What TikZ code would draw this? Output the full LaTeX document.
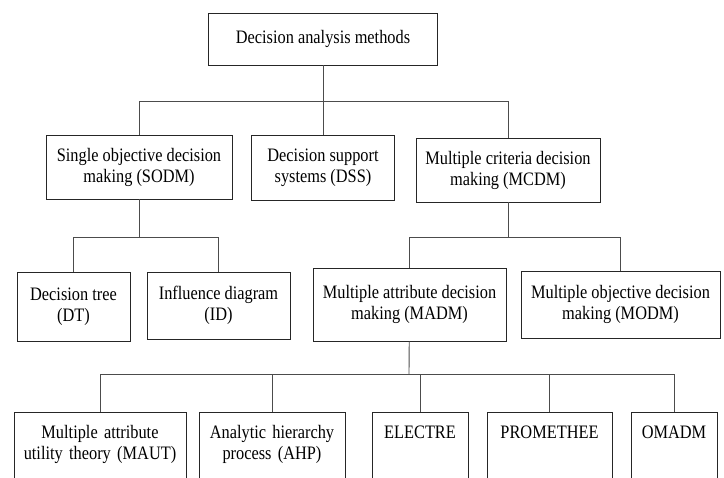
\documentclass[tikz,border=0pt]{standalone}
\usepackage{fontspec}
\setmainfont{Liberation Serif}[FakeStretch=0.86]

\tikzset{
	box/.style={draw=black!85, line width=0.9pt, align=center, inner sep=2pt,
		font=\fontsize{19}{21}\selectfont},
	leaf/.style={box, anchor=north, inner xsep=0pt, inner ysep=12pt,
		text width=#1, text height=14pt, text depth=80pt},
	link/.style={draw=black!70, line width=0.9pt}
}

\begin{document}
\begin{tikzpicture}[x=1pt, y=-1pt]

	\useasboundingbox (0,0) rectangle (724,478);
	\clip (0,0) rectangle (724,478);

	% root
	\node[box, minimum width=229pt, minimum height=52pt] (top) at (323,39) {Decision analysis methods};

	% second level
	\node[box, minimum width=186pt, minimum height=64pt] (sodm) at (139,167) {Single objective decision\\making (SODM)};
	\node[box, minimum width=143pt, minimum height=65pt] (dss) at (323,167.5) {Decision support\\systems (DSS)};
	\node[box, minimum width=184pt, minimum height=64pt] (mcdm) at (508,170) {Multiple criteria decision\\making (MCDM)};

	% third level
	\node[box, minimum width=113pt, minimum height=69pt] (dt) at (73.5,306.5) {Decision tree\\(DT)};
	\node[box, minimum width=143pt, minimum height=67pt] (id) at (218.5,305.5) {Influence diagram\\(ID)};
	\node[box, minimum width=193pt, minimum height=73pt] (madm) at (409.5,304.5) {Multiple attribute decision\\making (MADM)};
	\node[box, minimum width=199pt, minimum height=67pt] (modm) at (620.5,304.5) {Multiple objective decision\\making (MODM)};

	% MADM methods (cut off at the bottom)
	\node[leaf=172pt] (maut) at (100,412) {Multiple attribute\\utility theory (MAUT)};
	\node[leaf=146pt] (ahp) at (272,412) {Analytic hierarchy\\process (AHP)};
	\node[leaf=96pt] (electre) at (420,412) {ELECTRE};
	\node[leaf=125pt] (prom) at (549.5,412) {PROMETHEE};
	\node[leaf=86pt] (omadm) at (674,412) {OMADM};

	% junctions
	\coordinate (j1) at (323,101);
	\coordinate (j2) at (139,237);
	\coordinate (j3) at (508,237);
	\coordinate (j4) at (409,374);

	\draw[link] (top) -- (j1);
	\foreach \n in {sodm, dss, mcdm}{
		\draw[link] (j1) -| (\n.north);
	}
	\draw[link] (sodm) -- (j2);
	\foreach \n in {dt, id}{
		\draw[link] (j2) -| (\n.north);
	}
	\draw[link] (mcdm) -- (j3);
	\foreach \n in {madm, modm}{
		\draw[link] (j3) -| (\n.north);
	}
	\draw[link] (madm) -- (j4);
	\foreach \n in {maut, ahp, electre, prom, omadm}{
		\draw[link] (j4) -| (\n.north);
	}

\end{tikzpicture}
\end{document}
